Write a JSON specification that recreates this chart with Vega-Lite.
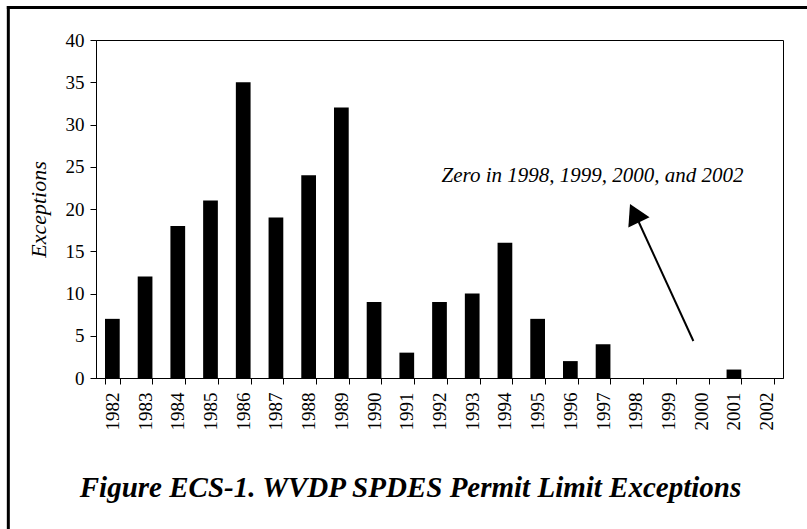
{
  "$schema": "https://vega.github.io/schema/vega-lite/v6.json",
  "width": 687,
  "height": 338,
  "autosize": {"type": "none"},
  "padding": {"left": 96, "top": 40, "right": 24, "bottom": 151},
  "background": "white",
  "title": {
    "text": "Figure ECS-1. WVDP SPDES Permit Limit Exceptions",
    "orient": "bottom",
    "anchor": "middle",
    "frame": "group",
    "dx": -29,
    "baseline": "alphabetic",
    "font": "Liberation Serif",
    "fontSize": 29,
    "fontStyle": "italic",
    "fontWeight": "bold",
    "color": "black",
    "offset": -34
  },
  "config": {
    "view": {"stroke": "black", "strokeWidth": 1},
    "axis": {
      "domainColor": "black",
      "tickColor": "black",
      "labelColor": "black",
      "titleColor": "black",
      "labelFont": "Liberation Serif",
      "titleFont": "Liberation Serif",
      "tickSize": 6,
      "grid": false
    }
  },
  "datasets": {
    "bars": [
      {"year": "1982", "exceptions": 7},
      {"year": "1983", "exceptions": 12},
      {"year": "1984", "exceptions": 18},
      {"year": "1985", "exceptions": 21},
      {"year": "1986", "exceptions": 35},
      {"year": "1987", "exceptions": 19},
      {"year": "1988", "exceptions": 24},
      {"year": "1989", "exceptions": 32},
      {"year": "1990", "exceptions": 9},
      {"year": "1991", "exceptions": 3},
      {"year": "1992", "exceptions": 9},
      {"year": "1993", "exceptions": 10},
      {"year": "1994", "exceptions": 16},
      {"year": "1995", "exceptions": 7},
      {"year": "1996", "exceptions": 2},
      {"year": "1997", "exceptions": 4},
      {"year": "1998", "exceptions": 0},
      {"year": "1999", "exceptions": 0},
      {"year": "2000", "exceptions": 0},
      {"year": "2001", "exceptions": 1},
      {"year": "2002", "exceptions": 0}
    ],
    "frame": [
      {"bx1": -2.68, "bx2": 21.9, "by1": 43.85, "by2": 43.85},
      {"bx1": -2.68, "bx2": -2.68, "by1": 43.85, "by2": -17.87}
    ],
    "arrow": [{"ax1": 18.26, "ay1": 4.38, "ax2": 16.59, "ay2": 18.46}],
    "head": [{"hx": 16.46, "hy": 19.5}],
    "note": [{"nx": 15.18, "ny": 23.9, "label": "Zero in 1998, 1999, 2000, and 2002"}]
  },
  "layer": [
    {
      "data": {"name": "bars"},
      "mark": {"type": "bar", "color": "black"},
      "encoding": {
        "x": {
          "field": "year",
          "type": "ordinal",
          "scale": {"paddingInner": 0.55, "paddingOuter": 0.275},
          "axis": {
            "title": null,
            "labelAngle": -90,
            "tickBand": "extent",
            "labelFontSize": 19,
            "labelPadding": 8
          }
        },
        "y": {
          "field": "exceptions",
          "type": "quantitative",
          "scale": {"domain": [0, 40]},
          "axis": {
            "title": "Exceptions",
            "values": [0, 5, 10, 15, 20, 25, 30, 35, 40],
            "labelFontSize": 19,
            "labelPadding": 6,
            "titleFontSize": 22,
            "titleFontStyle": "italic",
            "titleFontWeight": "normal",
            "titlePadding": 15
          }
        }
      }
    },
    {
      "data": {"name": "frame"},
      "mark": {"type": "rule", "color": "black", "strokeWidth": 3, "strokeCap": "square"},
      "encoding": {
        "x": {"field": "bx1", "type": "quantitative", "scale": {"domain": [0, 21], "nice": false, "zero": false}, "axis": null},
        "x2": {"field": "bx2"},
        "y": {"field": "by1", "type": "quantitative", "scale": {"domain": [0, 40]}},
        "y2": {"field": "by2"}
      }
    },
    {
      "data": {"name": "arrow"},
      "mark": {"type": "rule", "color": "black", "strokeWidth": 2},
      "encoding": {
        "x": {"field": "ax1", "type": "quantitative", "scale": {"domain": [0, 21], "nice": false, "zero": false}, "axis": null},
        "x2": {"field": "ax2"},
        "y": {"field": "ay1", "type": "quantitative", "scale": {"domain": [0, 40]}},
        "y2": {"field": "ay2"}
      }
    },
    {
      "data": {"name": "head"},
      "mark": {"type": "point", "shape": "triangle-up", "size": 557, "filled": true, "color": "black", "opacity": 1, "angle": -26},
      "encoding": {
        "x": {"field": "hx", "type": "quantitative", "scale": {"domain": [0, 21], "nice": false, "zero": false}, "axis": null},
        "y": {"field": "hy", "type": "quantitative", "scale": {"domain": [0, 40]}}
      }
    },
    {
      "data": {"name": "note"},
      "mark": {"type": "text", "font": "Liberation Serif", "fontSize": 21, "fontStyle": "italic", "color": "black", "align": "center", "baseline": "middle"},
      "encoding": {
        "x": {"field": "nx", "type": "quantitative", "scale": {"domain": [0, 21], "nice": false, "zero": false}, "axis": null},
        "y": {"field": "ny", "type": "quantitative", "scale": {"domain": [0, 40]}},
        "text": {"field": "label"}
      }
    }
  ],
  "resolve": {"scale": {"x": "independent"}}
}
